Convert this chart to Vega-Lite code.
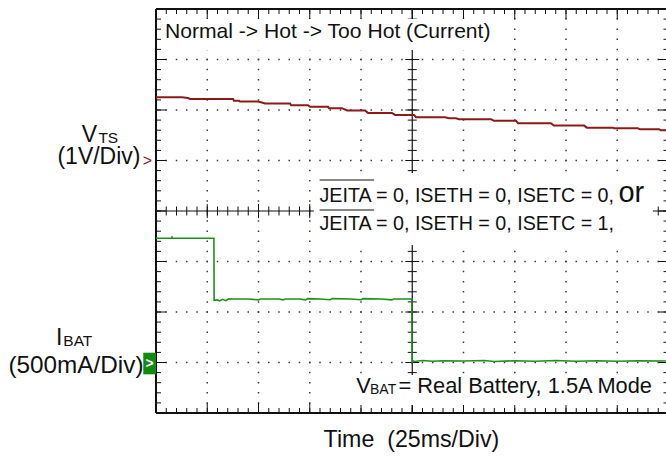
{
"$schema": "https://vega.github.io/schema/vega-lite/v6.json",
"width": 510,
"height": 404,
"autosize": {"type": "none"},
"padding": {"left": 156, "top": 9, "right": 0, "bottom": 45},
"background": "white",
"config": {
  "view": {"stroke": null},
  "font": "Liberation Sans"
},
"datasets": {
  "xt": [{"t":0},{"t":5},{"t":10},{"t":15},{"t":20},{"t":25},{"t":30},{"t":35},{"t":40},{"t":45},{"t":50},{"t":55},{"t":60},{"t":65},{"t":70},{"t":75},{"t":80},{"t":85},{"t":90},{"t":95},{"t":100},{"t":105},{"t":110},{"t":115},{"t":120},{"t":125},{"t":130},{"t":135},{"t":140},{"t":145},{"t":150},{"t":155},{"t":160},{"t":165},{"t":170},{"t":175},{"t":180},{"t":185},{"t":190},{"t":195},{"t":200},{"t":205},{"t":210},{"t":215},{"t":220},{"t":225},{"t":230},{"t":235},{"t":240},{"t":245},{"t":250}],
  "yt": [{"v":-5},{"v":-4.8},{"v":-4.6},{"v":-4.4},{"v":-4.2},{"v":-4},{"v":-3.8},{"v":-3.6},{"v":-3.4},{"v":-3.2},{"v":-3},{"v":-2.8},{"v":-2.6},{"v":-2.4},{"v":-2.2},{"v":-2},{"v":-1.8},{"v":-1.6},{"v":-1.4},{"v":-1.2},{"v":-1},{"v":-0.8},{"v":-0.6},{"v":-0.4},{"v":-0.2},{"v":0},{"v":0.2},{"v":0.4},{"v":0.6},{"v":0.8},{"v":1},{"v":1.2},{"v":1.4},{"v":1.6},{"v":1.8},{"v":2},{"v":2.2},{"v":2.4},{"v":2.6},{"v":2.8},{"v":3}],
  "vts": [{"t":0,"v":1.251},{"t":12.7,"v":1.251},{"t":15.6,"v":1.238},{"t":16.6,"v":1.218},{"t":37.6,"v":1.218},{"t":38.0,"v":1.185},{"t":40.5,"v":1.185},{"t":41.0,"v":1.166},{"t":49.8,"v":1.166},{"t":51.2,"v":1.154},{"t":53.2,"v":1.129},{"t":65.4,"v":1.129},{"t":65.9,"v":1.096},{"t":74.1,"v":1.096},{"t":75.1,"v":1.063},{"t":83.9,"v":1.063},{"t":84.4,"v":1.036},{"t":90.7,"v":1.036},{"t":93.2,"v":0.99},{"t":102.0,"v":0.99},{"t":103.4,"v":0.943},{"t":115.1,"v":0.943},{"t":116.6,"v":0.903},{"t":125.9,"v":0.903},{"t":126.8,"v":0.855},{"t":141.0,"v":0.855},{"t":142.9,"v":0.836},{"t":146.3,"v":0.836},{"t":147.8,"v":0.818},{"t":163.4,"v":0.818},{"t":164.9,"v":0.785},{"t":175.6,"v":0.785},{"t":176.6,"v":0.739},{"t":192.6,"v":0.739},{"t":194.1,"v":0.691},{"t":208.8,"v":0.691},{"t":210.2,"v":0.651},{"t":222.9,"v":0.651},{"t":223.4,"v":0.638},{"t":235.1,"v":0.638},{"t":236.1,"v":0.618},{"t":245.4,"v":0.618},{"t":246.3,"v":0.598},{"t":248.78,"v":0.598}],
  "ibat": [{"t":0,"i":1.23},{"t":7.7,"i":1.23},{"t":7.8,"i":1.25},{"t":7.9,"i":1.23},{"t":28.25,"i":1.23},{"t":28.35,"i":0.615},{"t":30,"i":0.62},{"t":31,"i":0.61},{"t":32.5,"i":0.625},{"t":34,"i":0.612},{"t":35.5,"i":0.63},{"t":38,"i":0.629},{"t":45,"i":0.629},{"t":50,"i":0.62},{"t":51,"i":0.629},{"t":60,"i":0.629},{"t":62,"i":0.62},{"t":63,"i":0.629},{"t":70,"i":0.629},{"t":73,"i":0.62},{"t":74,"i":0.632},{"t":80,"i":0.629},{"t":85,"i":0.621},{"t":86,"i":0.632},{"t":95,"i":0.629},{"t":100,"i":0.622},{"t":101,"i":0.632},{"t":110,"i":0.629},{"t":115,"i":0.62},{"t":116,"i":0.629},{"t":124.8,"i":0.629},{"t":124.9,"i":0.0},{"t":125.5,"i":0.015},{"t":126,"i":0.01},{"t":130,"i":0.02},{"t":135,"i":0.012},{"t":140,"i":0.018},{"t":150,"i":0.015},{"t":160,"i":0.02},{"t":165,"i":0.01},{"t":175,"i":0.018},{"t":185,"i":0.013},{"t":195,"i":0.02},{"t":205,"i":0.012},{"t":215,"i":0.018},{"t":225,"i":0.012},{"t":235,"i":0.018},{"t":248.78,"i":0.015}],
  "boxes": [{"t1":2.9,"t2":166.3,"v1":2.8,"v2":2.19},{"t1":77.0,"t2":242.4,"v1":-0.248,"v2":-1.673},{"t1":95.6,"t2":243.4,"v1":-4.248,"v2":-4.842}]
},
"layer": [
 {"layer": [
  {"data": {"name": "xt"}, "transform": [{"filter": "datum.t % 25 == 0 && datum.t > 0 && datum.t < 250 && datum.t != 125"}],
   "mark": {"type": "rule", "color": "#3a3a3a", "strokeWidth": 1.5, "strokeDash": [1.5, 8.6], "strokeDashOffset": 0.75},
   "encoding": {"x": {"field": "t", "type": "quantitative", "scale": {"domain": [0, 248.78], "nice": false, "zero": false}, "axis": null},
                "y": {"datum": -5, "scale": {"domain": [-5, 3], "nice": false, "zero": false}, "axis": null}, "y2": {"datum": 3}}},
  {"data": {"name": "yt"}, "transform": [{"filter": "abs(datum.v - round(datum.v)) < 0.01 && datum.v > -5 && datum.v < 3 && datum.v != -1"}],
   "mark": {"type": "rule", "color": "#3a3a3a", "strokeWidth": 1.5, "strokeDash": [1.5, 8.75], "strokeDashOffset": 0.75},
   "encoding": {"y": {"field": "v", "type": "quantitative", "scale": {"domain": [-5, 3], "nice": false, "zero": false}, "axis": null},
                "x": {"datum": 0, "scale": {"domain": [0, 248.78], "nice": false, "zero": false}, "axis": null}, "x2": {"datum": 250}}},
  {"data": {"values": [{"t": 125}]},
   "mark": {"type": "rule", "color": "#111", "strokeWidth": 1.2},
   "encoding": {"x": {"field": "t", "type": "quantitative", "scale": {"domain": [0, 248.78], "nice": false, "zero": false}, "axis": null},
                "y": {"datum": -5, "scale": {"domain": [-5, 3], "nice": false, "zero": false}, "axis": null}, "y2": {"datum": 3}}},
  {"data": {"values": [{"v": -1}]},
   "mark": {"type": "rule", "color": "#111", "strokeWidth": 1.2},
   "encoding": {"y": {"field": "v", "type": "quantitative", "scale": {"domain": [-5, 3], "nice": false, "zero": false}, "axis": null},
                "x": {"datum": 0, "scale": {"domain": [0, 248.78], "nice": false, "zero": false}, "axis": null}, "x2": {"datum": 250}}},
  {"data": {"name": "xt"},
   "mark": {"type": "rule", "color": "#111", "strokeWidth": 1, "yOffset": -4.5, "y2Offset": 4.5},
   "encoding": {"x": {"field": "t", "type": "quantitative", "scale": {"domain": [0, 248.78], "nice": false, "zero": false}, "axis": null},
                "y": {"datum": -1, "scale": {"domain": [-5, 3], "nice": false, "zero": false}, "axis": null}, "y2": {"datum": -1}}},
  {"data": {"name": "xt"}, "transform": [{"filter": "datum.t % 25 == 0"}],
   "mark": {"type": "rule", "color": "#111", "strokeWidth": 1, "yOffset": -7, "y2Offset": 7},
   "encoding": {"x": {"field": "t", "type": "quantitative", "scale": {"domain": [0, 248.78], "nice": false, "zero": false}, "axis": null},
                "y": {"datum": -1, "scale": {"domain": [-5, 3], "nice": false, "zero": false}, "axis": null}, "y2": {"datum": -1}}},
  {"data": {"name": "yt"},
   "mark": {"type": "rule", "color": "#111", "strokeWidth": 1, "xOffset": -4.5, "x2Offset": 4.5},
   "encoding": {"y": {"field": "v", "type": "quantitative", "scale": {"domain": [-5, 3], "nice": false, "zero": false}, "axis": null},
                "x": {"datum": 125, "scale": {"domain": [0, 248.78], "nice": false, "zero": false}, "axis": null}, "x2": {"datum": 125}}},
  {"data": {"name": "yt"}, "transform": [{"filter": "abs(datum.v - round(datum.v)) < 0.01"}],
   "mark": {"type": "rule", "color": "#111", "strokeWidth": 1, "xOffset": -7, "x2Offset": 7},
   "encoding": {"y": {"field": "v", "type": "quantitative", "scale": {"domain": [-5, 3], "nice": false, "zero": false}, "axis": null},
                "x": {"datum": 125, "scale": {"domain": [0, 248.78], "nice": false, "zero": false}, "axis": null}, "x2": {"datum": 125}}},
  {"data": {"name": "xt"},
   "mark": {"type": "rule", "color": "#111", "strokeWidth": 1, "y2Offset": -5},
   "encoding": {"x": {"field": "t", "type": "quantitative", "scale": {"domain": [0, 248.78], "nice": false, "zero": false}, "axis": null},
                "y": {"datum": -5, "scale": {"domain": [-5, 3], "nice": false, "zero": false}, "axis": null}, "y2": {"datum": -5}}},
  {"data": {"name": "xt"}, "transform": [{"filter": "datum.t % 25 == 0"}],
   "mark": {"type": "rule", "color": "#111", "strokeWidth": 1, "y2Offset": -10},
   "encoding": {"x": {"field": "t", "type": "quantitative", "scale": {"domain": [0, 248.78], "nice": false, "zero": false}, "axis": null},
                "y": {"datum": -5, "scale": {"domain": [-5, 3], "nice": false, "zero": false}, "axis": null}, "y2": {"datum": -5}}},
  {"data": {"name": "xt"},
   "mark": {"type": "rule", "color": "#111", "strokeWidth": 1, "y2Offset": 5},
   "encoding": {"x": {"field": "t", "type": "quantitative", "scale": {"domain": [0, 248.78], "nice": false, "zero": false}, "axis": null},
                "y": {"datum": 3, "scale": {"domain": [-5, 3], "nice": false, "zero": false}, "axis": null}, "y2": {"datum": 3}}},
  {"data": {"name": "xt"}, "transform": [{"filter": "datum.t % 25 == 0"}],
   "mark": {"type": "rule", "color": "#111", "strokeWidth": 1, "y2Offset": 10},
   "encoding": {"x": {"field": "t", "type": "quantitative", "scale": {"domain": [0, 248.78], "nice": false, "zero": false}, "axis": null},
                "y": {"datum": 3, "scale": {"domain": [-5, 3], "nice": false, "zero": false}, "axis": null}, "y2": {"datum": 3}}},
  {"data": {"name": "yt"},
   "mark": {"type": "rule", "color": "#111", "strokeWidth": 1, "x2Offset": 5},
   "encoding": {"y": {"field": "v", "type": "quantitative", "scale": {"domain": [-5, 3], "nice": false, "zero": false}, "axis": null},
                "x": {"datum": 0, "scale": {"domain": [0, 248.78], "nice": false, "zero": false}, "axis": null}, "x2": {"datum": 0}}},
  {"data": {"name": "yt"}, "transform": [{"filter": "abs(datum.v - round(datum.v)) < 0.01"}],
   "mark": {"type": "rule", "color": "#111", "strokeWidth": 1, "x2Offset": 10},
   "encoding": {"y": {"field": "v", "type": "quantitative", "scale": {"domain": [-5, 3], "nice": false, "zero": false}, "axis": null},
                "x": {"datum": 0, "scale": {"domain": [0, 248.78], "nice": false, "zero": false}, "axis": null}, "x2": {"datum": 0}}},
  {"data": {"name": "yt"},
   "mark": {"type": "rule", "color": "#111", "strokeWidth": 1, "x2Offset": -5},
   "encoding": {"y": {"field": "v", "type": "quantitative", "scale": {"domain": [-5, 3], "nice": false, "zero": false}, "axis": null},
                "x": {"datum": 250, "scale": {"domain": [0, 248.78], "nice": false, "zero": false}, "axis": null}, "x2": {"datum": 250}}},
  {"data": {"name": "yt"}, "transform": [{"filter": "abs(datum.v - round(datum.v)) < 0.01"}],
   "mark": {"type": "rule", "color": "#111", "strokeWidth": 1, "x2Offset": -10},
   "encoding": {"y": {"field": "v", "type": "quantitative", "scale": {"domain": [-5, 3], "nice": false, "zero": false}, "axis": null},
                "x": {"datum": 250, "scale": {"domain": [0, 248.78], "nice": false, "zero": false}, "axis": null}, "x2": {"datum": 250}}},
  {"data": {"values": [{"t": 0}]},
   "mark": {"type": "rule", "color": "#111", "strokeWidth": 2},
   "encoding": {"x": {"field": "t", "type": "quantitative", "scale": {"domain": [0, 248.78], "nice": false, "zero": false}, "axis": null},
                "y": {"datum": -5, "scale": {"domain": [-5, 3], "nice": false, "zero": false}, "axis": null}, "y2": {"datum": 3}}},
  {"data": {"values": [{"v": -5}, {"v": 3}]},
   "mark": {"type": "rule", "color": "#111", "strokeWidth": 2},
   "encoding": {"y": {"field": "v", "type": "quantitative", "scale": {"domain": [-5, 3], "nice": false, "zero": false}, "axis": null},
                "x": {"datum": 0, "scale": {"domain": [0, 248.78], "nice": false, "zero": false}, "axis": null}, "x2": {"datum": 250}}},
  {"data": {"name": "boxes"},
   "mark": {"type": "rect", "color": "white"},
   "encoding": {"x": {"field": "t1", "type": "quantitative", "scale": {"domain": [0, 248.78], "nice": false, "zero": false}, "axis": null}, "x2": {"field": "t2"},
                "y": {"field": "v1", "type": "quantitative", "scale": {"domain": [-5, 3], "nice": false, "zero": false}, "axis": null}, "y2": {"field": "v2"}}},
  {"data": {"name": "vts"},
   "mark": {"type": "line", "color": "#8b1a1a", "strokeWidth": 2},
   "encoding": {"x": {"field": "t", "type": "quantitative", "scale": {"domain": [0, 248.78], "nice": false, "zero": false}, "axis": null},
                "y": {"field": "v", "type": "quantitative", "scale": {"domain": [-5, 3], "nice": false, "zero": false}, "axis": null}}},
  {"data": {"values": [{"t1": 79.8, "t2": 106.4, "v": -0.386}, {"t1": 79.8, "t2": 106.4, "v": -0.98}]},
   "mark": {"type": "rule", "color": "#111", "strokeWidth": 1.2},
   "encoding": {"x": {"field": "t1", "type": "quantitative", "scale": {"domain": [0, 248.78], "nice": false, "zero": false}, "axis": null}, "x2": {"field": "t2"},
                "y": {"field": "v", "type": "quantitative", "scale": {"domain": [-5, 3], "nice": false, "zero": false}, "axis": null}}},
  {"data": {"values": [{"t1": -6.2, "t2": 0, "v1": -3.806, "v2": -4.234}]},
   "mark": {"type": "rect", "color": "#128a12"},
   "encoding": {"x": {"field": "t1", "type": "quantitative", "scale": {"domain": [0, 248.78], "nice": false, "zero": false}, "axis": null}, "x2": {"field": "t2"},
                "y": {"field": "v1", "type": "quantitative", "scale": {"domain": [-5, 3], "nice": false, "zero": false}, "axis": null}, "y2": {"field": "v2"}}},
  {"data": {"values": [{"t": -3.1, "v": -4.02, "label": ">"}]},
   "mark": {"type": "text", "color": "white", "fontSize": 14, "fontWeight": "bold", "align": "center", "baseline": "middle"},
   "encoding": {"x": {"field": "t", "type": "quantitative", "scale": {"domain": [0, 248.78], "nice": false, "zero": false}, "axis": null},
                "y": {"field": "v", "type": "quantitative", "scale": {"domain": [-5, 3], "nice": false, "zero": false}, "axis": null}, "text": {"field": "label"}}},
  {"data": {"values": [{"t": -4.15, "v": 0, "label": ">"}]},
   "mark": {"type": "text", "color": "#8b1a1a", "fontSize": 16, "align": "center", "baseline": "middle"},
   "encoding": {"x": {"field": "t", "type": "quantitative", "scale": {"domain": [0, 248.78], "nice": false, "zero": false}, "axis": null},
                "y": {"field": "v", "type": "quantitative", "scale": {"domain": [-5, 3], "nice": false, "zero": false}, "axis": null}, "text": {"field": "label"}}},
  {"data": {"values": [{"t": -36.2, "v": 0.372, "label": "V"}, {"t": -48.8, "v": -3.653, "label": "I"}]},
   "mark": {"type": "text", "color": "#111", "fontSize": 23, "align": "left", "baseline": "alphabetic"},
   "encoding": {"x": {"field": "t", "type": "quantitative", "scale": {"domain": [0, 248.78], "nice": false, "zero": false}, "axis": null},
                "y": {"field": "v", "type": "quantitative", "scale": {"domain": [-5, 3], "nice": false, "zero": false}, "axis": null}, "text": {"field": "label"}}},
  {"data": {"values": [{"t": -28.1, "v": 0.341, "label": "TS"}, {"t": -45.2, "v": -3.673, "label": "BAT"}]},
   "mark": {"type": "text", "color": "#111", "fontSize": 15.5, "align": "left", "baseline": "alphabetic"},
   "encoding": {"x": {"field": "t", "type": "quantitative", "scale": {"domain": [0, 248.78], "nice": false, "zero": false}, "axis": null},
                "y": {"field": "v", "type": "quantitative", "scale": {"domain": [-5, 3], "nice": false, "zero": false}, "axis": null}, "text": {"field": "label"}}},
  {"data": {"values": [{"t": -7.56, "v": -0.075, "label": "(1V/Div)"}]},
   "mark": {"type": "text", "color": "#111", "fontSize": 23, "align": "right", "baseline": "alphabetic"},
   "encoding": {"x": {"field": "t", "type": "quantitative", "scale": {"domain": [0, 248.78], "nice": false, "zero": false}, "axis": null},
                "y": {"field": "v", "type": "quantitative", "scale": {"domain": [-5, 3], "nice": false, "zero": false}, "axis": null}, "text": {"field": "label"}}},
  {"data": {"values": [{"t": -6.1, "v": -4.214, "label": "(500mA/Div)"}]},
   "mark": {"type": "text", "color": "#111", "fontSize": 24.3, "align": "right", "baseline": "alphabetic"},
   "encoding": {"x": {"field": "t", "type": "quantitative", "scale": {"domain": [0, 248.78], "nice": false, "zero": false}, "axis": null},
                "y": {"field": "v", "type": "quantitative", "scale": {"domain": [-5, 3], "nice": false, "zero": false}, "axis": null}, "text": {"field": "label"}}},
  {"data": {"values": [{"t": 4.39, "v": 2.42, "label": "Normal -> Hot -> Too Hot (Current)"}]},
   "mark": {"type": "text", "color": "#111", "fontSize": 21.1, "align": "left", "baseline": "alphabetic"},
   "encoding": {"x": {"field": "t", "type": "quantitative", "scale": {"domain": [0, 248.78], "nice": false, "zero": false}, "axis": null},
                "y": {"field": "v", "type": "quantitative", "scale": {"domain": [-5, 3], "nice": false, "zero": false}, "axis": null}, "text": {"field": "label"}}},
  {"data": {"values": [{"t": 79.76, "v": -0.816, "label": "JEITA = 0, ISETH = 0, ISETC = 0,"}, {"t": 79.76, "v": -1.376, "label": "JEITA = 0, ISETH = 0, ISETC = 1,"}]},
   "mark": {"type": "text", "color": "#111", "fontSize": 19.7, "align": "left", "baseline": "alphabetic"},
   "encoding": {"x": {"field": "t", "type": "quantitative", "scale": {"domain": [0, 248.78], "nice": false, "zero": false}, "axis": null},
                "y": {"field": "v", "type": "quantitative", "scale": {"domain": [-5, 3], "nice": false, "zero": false}, "axis": null}, "text": {"field": "label"}}},
  {"data": {"values": [{"t": 225.6, "v": -0.816, "label": "or"}]},
   "mark": {"type": "text", "color": "#111", "fontSize": 29, "align": "left", "baseline": "alphabetic"},
   "encoding": {"x": {"field": "t", "type": "quantitative", "scale": {"domain": [0, 248.78], "nice": false, "zero": false}, "axis": null},
                "y": {"field": "v", "type": "quantitative", "scale": {"domain": [-5, 3], "nice": false, "zero": false}, "axis": null}, "text": {"field": "label"}}},
  {"data": {"values": [{"t": 97.7, "v": -4.61, "label": "V"}, {"t": 118.3, "v": -4.61, "label": "= Real Battery, 1.5A Mode"}]},
   "mark": {"type": "text", "color": "#111", "fontSize": 21.8, "align": "left", "baseline": "alphabetic"},
   "encoding": {"x": {"field": "t", "type": "quantitative", "scale": {"domain": [0, 248.78], "nice": false, "zero": false}, "axis": null},
                "y": {"field": "v", "type": "quantitative", "scale": {"domain": [-5, 3], "nice": false, "zero": false}, "axis": null}, "text": {"field": "label"}}},
  {"data": {"values": [{"t": 104.4, "v": -4.624, "label": "BAT"}]},
   "mark": {"type": "text", "color": "#111", "fontSize": 14, "align": "left", "baseline": "alphabetic"},
   "encoding": {"x": {"field": "t", "type": "quantitative", "scale": {"domain": [0, 248.78], "nice": false, "zero": false}, "axis": null},
                "y": {"field": "v", "type": "quantitative", "scale": {"domain": [-5, 3], "nice": false, "zero": false}, "axis": null}, "text": {"field": "label"}}},
  {"data": {"values": [{"t": 124.6, "v": -5.679, "label": "Time\u00a0 (25ms/Div)"}]},
   "mark": {"type": "text", "color": "#111", "fontSize": 23.2, "align": "center", "baseline": "alphabetic"},
   "encoding": {"x": {"field": "t", "type": "quantitative", "scale": {"domain": [0, 248.78], "nice": false, "zero": false}, "axis": null},
                "y": {"field": "v", "type": "quantitative", "scale": {"domain": [-5, 3], "nice": false, "zero": false}, "axis": null}, "text": {"field": "label"}}}
 ]},
 {"layer": [
  {"data": {"name": "ibat"},
   "mark": {"type": "line", "color": "#1f8f1f", "strokeWidth": 1.6},
   "encoding": {"x": {"field": "t", "type": "quantitative", "scale": {"domain": [0, 248.78], "nice": false, "zero": false}, "axis": null},
                "y": {"field": "i", "type": "quantitative", "scale": {"domain": [-0.5, 3.5], "nice": false, "zero": false}, "axis": null}}}
 ]}
],
"resolve": {"scale": {"y": "independent"}}
}
